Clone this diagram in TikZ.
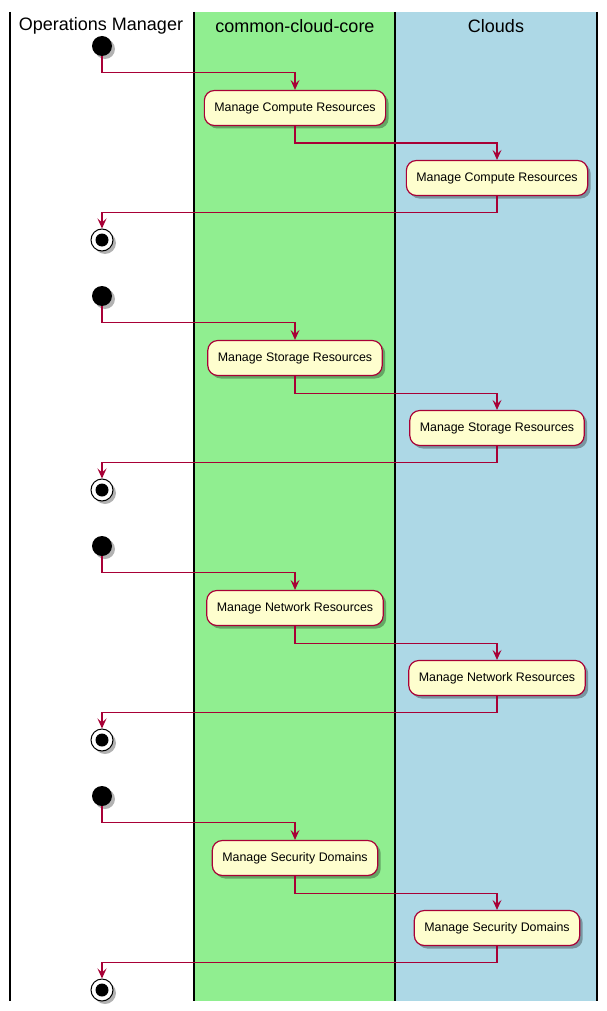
\documentclass[tikz,border=0pt]{standalone}
\usepackage{fontspec}
\setmainfont{Liberation Sans}
\usetikzlibrary{arrows.meta,positioning,shadows}
\definecolor{umlred}{HTML}{A80036}
\definecolor{umlbox}{HTML}{FEFECE}
\definecolor{lanegreen}{HTML}{90EE90}
\definecolor{laneblue}{HTML}{ADD8E6}

\begin{document}
\begin{tikzpicture}[
  x=1pt, y=-1pt,
  >={Stealth[length=10pt,width=9pt,inset=4pt]},
  divider/.style={draw=black,line width=1.6pt},
  head/.style={font=\fontsize{18}{21}\selectfont},
  shade/.style={drop shadow={shadow xshift=3pt,shadow yshift=-3pt,fill=black,opacity=0.3}},
  action/.style={rectangle,rounded corners=10pt,draw=umlred,line width=1.2pt,fill=umlbox,
    minimum height=35pt,inner xsep=10pt,font=\fontsize{12.4}{14}\selectfont,shade},
  startdot/.style={circle,fill=black,minimum size=20pt,inner sep=0pt,shade},
  stopdot/.style={circle,draw=black,fill=white,minimum size=22pt,inner sep=0pt,line width=1pt,shade,
    path picture={\fill[black] (path picture bounding box.center) circle (6.5pt);}},
  flow/.style={->,draw=umlred,line width=1.2pt},
]
  % lanes
  \useasboundingbox (0,0) rectangle (607,1011);
  \fill[white] (0,0) rectangle (607,1011);
  \fill[lanegreen] (194,12) rectangle (395,1001);
  \fill[laneblue] (395,12) rectangle (597,1001);
  \foreach \x in {10,194,395,597}
    \draw[divider] (\x,12) -- (\x,1001);
  \node[head] (hops) at (101,26) {Operations Manager};
  \node[head] (hcore) at (295,26) {common-cloud-core};
  \node[head] (hclouds) at (496,26) {Clouds};

  % compute
  \node[startdot] (start1) at (102,46) {};
  \node[action] (core1) at (295,108) {Manage Compute Resources};
  \node[action] (cloud1) at (497,178) {Manage Compute Resources};
  \node[stopdot] (stop1) at (102,240) {};
  \draw[flow] (start1.south) -- ++(0,16) -| (core1.north);
  \draw[flow] (core1.south) -- ++(0,17) -| (cloud1.north);
  \draw[flow] (cloud1.south) -- ++(0,16) -| (stop1.north);

  % storage
  \node[startdot] (start2) at (102,296) {};
  \node[action] (core2) at (295,358) {Manage Storage Resources};
  \node[action] (cloud2) at (497,428) {Manage Storage Resources};
  \node[stopdot] (stop2) at (102,490) {};
  \draw[flow] (start2.south) -- ++(0,16) -| (core2.north);
  \draw[flow] (core2.south) -- ++(0,17) -| (cloud2.north);
  \draw[flow] (cloud2.south) -- ++(0,16) -| (stop2.north);

  % network
  \node[startdot] (start3) at (102,546) {};
  \node[action] (core3) at (295,608) {Manage Network Resources};
  \node[action] (cloud3) at (497,678) {Manage Network Resources};
  \node[stopdot] (stop3) at (102,740) {};
  \draw[flow] (start3.south) -- ++(0,16) -| (core3.north);
  \draw[flow] (core3.south) -- ++(0,17) -| (cloud3.north);
  \draw[flow] (cloud3.south) -- ++(0,16) -| (stop3.north);

  % security
  \node[startdot] (start4) at (102,796) {};
  \node[action] (core4) at (295,858) {Manage Security Domains};
  \node[action] (cloud4) at (497,928) {Manage Security Domains};
  \node[stopdot] (stop4) at (102,990) {};
  \draw[flow] (start4.south) -- ++(0,16) -| (core4.north);
  \draw[flow] (core4.south) -- ++(0,17) -| (cloud4.north);
  \draw[flow] (cloud4.south) -- ++(0,16) -| (stop4.north);
\end{tikzpicture}
\end{document}
